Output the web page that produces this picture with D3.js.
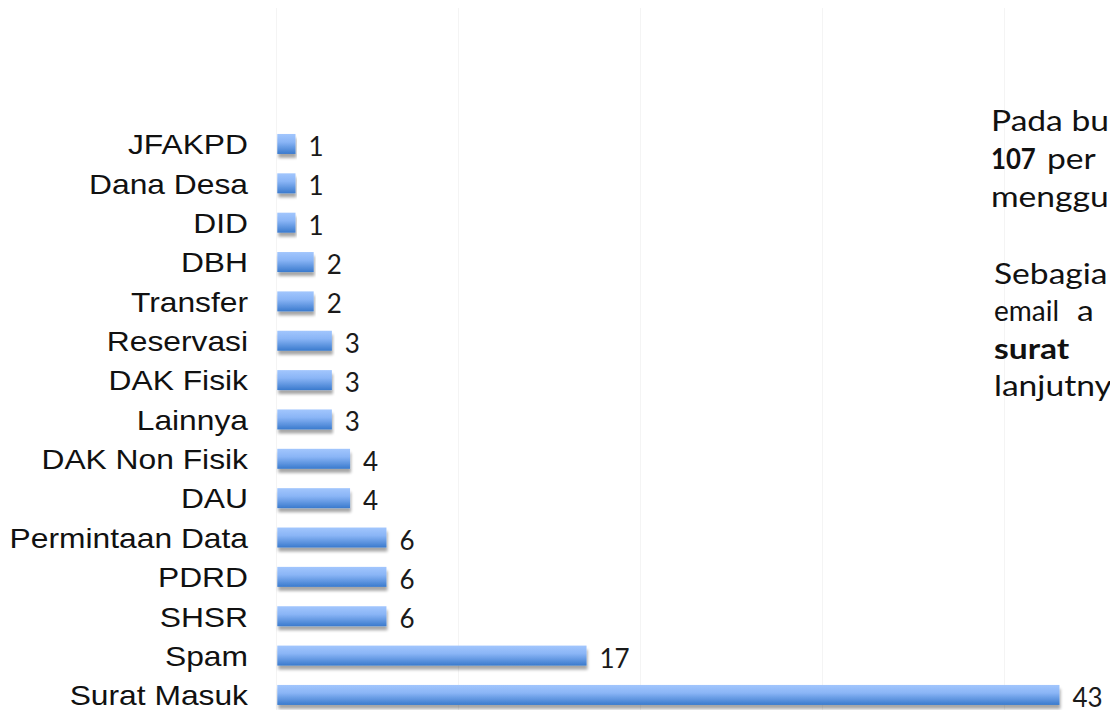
<!DOCTYPE html>
<html>
<head>
<meta charset="utf-8">
<script src="https://cdn.jsdelivr.net/npm/d3@7"></script>
<style>
  html, body { margin: 0; padding: 0; background: #fff; overflow: hidden; }
  svg { display: block; }
</style>
</head>
<body>
<div id="chart"></div>
<script>
const categories = ['JFAKPD', 'Dana Desa', 'DID', 'DBH', 'Transfer', 'Reservasi', 'DAK Fisik', 'Lainnya',
  'DAK Non Fisik', 'DAU', 'Permintaan Data', 'PDRD', 'SHSR', 'Spam', 'Surat Masuk'];
const values = [1, 1, 1, 2, 2, 3, 3, 3, 4, 4, 6, 6, 6, 17, 43];
const gridTicks = [0, 10, 20, 30, 40, 50];

const width = 1110;
const height = 710;

const svg = d3.select('#chart').append('svg').attr('width', width).attr('height', height);

const defs = svg.append('defs');
const grad = defs.append('linearGradient').attr('id', 'barGrad')
  .attr('x1', 0).attr('y1', 0).attr('x2', 0).attr('y2', 1);
grad.append('stop').attr('offset', '0%').attr('stop-color', '#a2c6fd');
grad.append('stop').attr('offset', '40%').attr('stop-color', '#8ab5f6');
grad.append('stop').attr('offset', '100%').attr('stop-color', '#3a7acd');

const shadow = defs.append('filter').attr('id', 'shadow')
  .attr('x', '-5%').attr('y', '-20%').attr('width', '110%').attr('height', '160%');
shadow.append('feGaussianBlur').attr('in', 'SourceAlpha').attr('stdDeviation', 1.8).attr('result', 'blur');
shadow.append('feOffset').attr('in', 'blur').attr('dx', 1).attr('dy', 3.5).attr('result', 'off');
shadow.append('feComponentTransfer').attr('in', 'off').attr('result', 'soft')
  .append('feFuncA').attr('type', 'linear').attr('slope', 0.35);
const merge = shadow.append('feMerge');
merge.append('feMergeNode').attr('in', 'soft');
merge.append('feMergeNode').attr('in', 'SourceGraphic');

const x = d3.scaleLinear().domain([0, 50]).range([277.3, 1186.8]);

const y = d3.scaleBand()
  .domain(categories)
  .range([114.6, 724.3])
  .padding(0.492);

// faint vertical grid
svg.append('g')
  .selectAll('line')
  .data(gridTicks)
  .enter()
  .append('line')
  .attr('x1', (d) => Math.round(x(d)) - 0.5)
  .attr('x2', (d) => Math.round(x(d)) - 0.5)
  .attr('y1', 8)
  .attr('y2', height)
  .attr('stroke', '#f4f4f4')
  .attr('stroke-width', 1);

// bars
svg.append('g')
  .selectAll('rect')
  .data(values)
  .enter()
  .append('rect')
  .attr('x', x(0))
  .attr('y', (d, i) => y(categories[i]))
  .attr('width', (d) => x(d) - x(0))
  .attr('height', y.bandwidth())
  .attr('fill', 'url(#barGrad)')
  .attr('filter', 'url(#shadow)');

// category labels
svg.append('g')
  .selectAll('text')
  .data(categories)
  .enter()
  .append('text')
  .attr('transform', (d) => `translate(248, ${y(d) + y.bandwidth() / 2 + 10.3}) scale(1.115, 1)`)
  .attr('text-anchor', 'end')
  .attr('font-family', '"Liberation Sans", Arial, sans-serif')
  .attr('font-size', 28.5)
  .attr('fill', '#111')
  .text((d) => d);

// value labels
svg.append('g')
  .selectAll('text')
  .data(values)
  .enter()
  .append('text')
  .attr('x', (d) => x(d) + 13)
  .attr('y', (d, i) => y(categories[i]) + y.bandwidth() / 2 + 12)
  .attr('font-family', 'Lato, sans-serif')
  .attr('font-size', 26)
  .attr('fill', '#1a1a1a')
  .text((d) => d);

// side note (runs off the right edge, as in the source slide)
const note = svg.append('g')
  .attr('font-family', 'Lato, sans-serif')
  .attr('font-size', 28)
  .attr('fill', '#111');

const noteWords = [
  { t: 'Pada bu', x: 991, y: 131, b: false, sx: 1.2 },
  { t: '107', x: 991, y: 169, b: true, sx: 0.92 },
  { t: 'per', x: 1047, y: 169, b: false, sx: 1.2 },
  { t: 'menggu', x: 991, y: 207, b: false, sx: 1.2 },
  { t: 'Sebagia', x: 994, y: 284, b: false, sx: 1.2 },
  { t: 'email', x: 994, y: 321, b: false, sx: 1.0 },
  { t: 'a', x: 1077, y: 321, b: false, sx: 1.2 },
  { t: 'surat', x: 994, y: 359, b: true, sx: 1.2 },
  { t: 'lanjutny', x: 994, y: 396, b: false, sx: 1.2 }
];

note.selectAll('text')
  .data(noteWords)
  .enter()
  .append('text')
  .attr('transform', (d) => `translate(${d.x}, ${d.y}) scale(${d.sx}, 1)`)
  .attr('font-weight', (d) => (d.b ? 700 : 400))
  .text((d) => d.t);
</script>
</body>
</html>
